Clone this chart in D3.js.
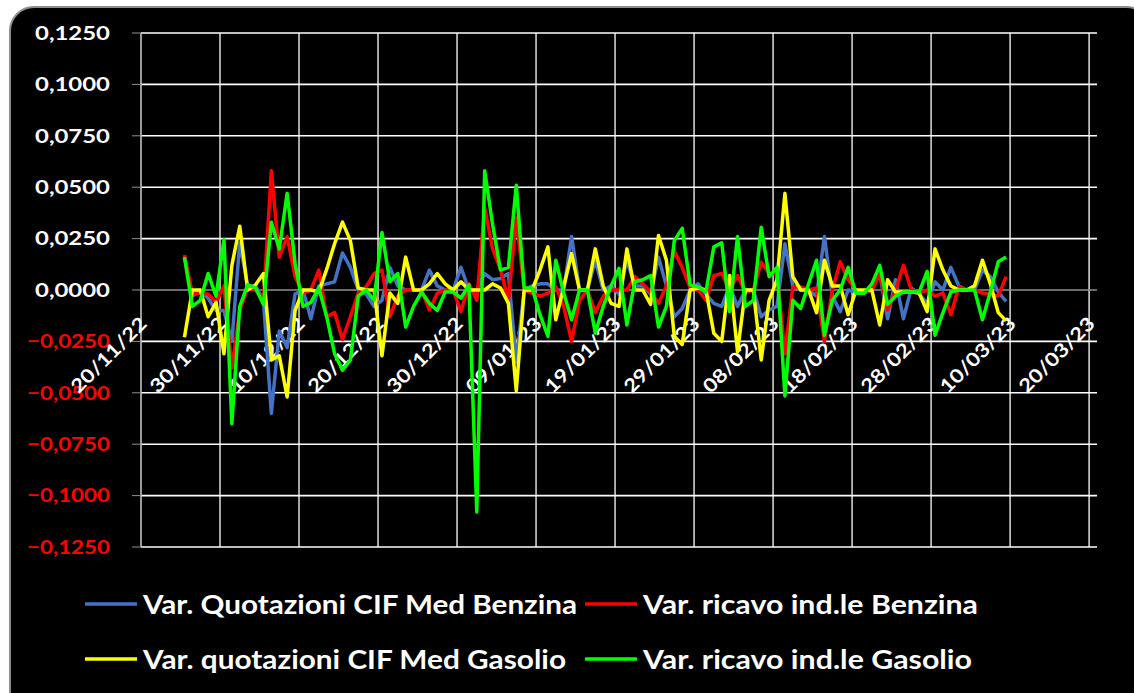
<!DOCTYPE html>
<html>
<head>
<meta charset="utf-8">
<script src="https://cdnjs.cloudflare.com/ajax/libs/d3/7.8.5/d3.min.js"></script>
<style>
  body { margin: 0; background: #fff; }
  svg { display: block; }
</style>
</head>
<body>
<div id="chart"></div>
<script>
// daily values from 25/11/22 to 09/03/23
var startDate = new Date(2022, 10, 25);

var benzinaQuot = [
  0.016, -0.003, 0.000, -0.004, -0.010, -0.010, -0.025, 0.023, 0.002, 0.002,
  -0.005, -0.060, -0.020, -0.028, -0.002, 0.000, -0.014, 0.002, 0.003, 0.004,
  0.018, 0.011, 0.000, -0.002, -0.008, -0.005, 0.011, 0.002, 0.000, 0.000,
  0.000, 0.0097, 0.002, 0.000, 0.000, 0.011, 0.000, 0.000, 0.008, 0.005,
  0.0056, 0.008, -0.035, 0.000, 0.002, 0.003, 0.003, 0.000, 0.000, 0.026,
  0.000, 0.000, 0.0145, 0.000, 0.002, -0.002, 0.0145, 0.002, 0.002, -0.002,
  0.016, 0.002, -0.013, -0.009, 0.000, 0.003, -0.002, -0.0065, -0.008, 0.002,
  -0.008, 0.000, 0.000, -0.013, -0.0097, -0.008, 0.0225, 0.002, 0.000, 0.000,
  -0.003, 0.026, -0.003, -0.0105, 0.000, -0.001, -0.001, 0.000, 0.008, -0.014,
  0.005, -0.014, 0.001, -0.002, -0.0065, 0.004, 0.000, 0.011, 0.002, 0.000,
  0.000, 0.0097, 0.0065, -0.001, -0.0055
];

var benzinaRicavo = [
  0.017, -0.002, -0.0015, -0.002, -0.006, 0.002, -0.038, -0.010, 0.001, 0.000,
  -0.005, 0.058, 0.016, 0.026, 0.0065, -0.0015, 0.000, 0.0097, -0.013, -0.011,
  -0.024, -0.013, -0.0015, 0.0015, 0.008, 0.0097, -0.013, -0.003, 0.000, 0.000,
  0.000, -0.0097, -0.0016, 0.000, 0.000, -0.0105, 0.003, -0.005, 0.040, 0.020,
  0.010, -0.005, 0.035, 0.000, -0.0015, -0.003, -0.0015, 0.0015, -0.008, -0.025,
  -0.005, 0.000, -0.011, -0.003, 0.000, 0.000, 0.000, 0.0065, 0.003, -0.001,
  -0.0065, 0.002, 0.019, 0.011, 0.001, 0.000, -0.005, 0.007, 0.008, 0.000,
  0.007, -0.001, 0.000, 0.0135, 0.008, 0.008, -0.031, 0.0015, 0.0015, 0.000,
  0.001, -0.025, 0.000, 0.0137, 0.005, 0.000, -0.0015, 0.000, 0.008, -0.0097,
  0.000, 0.012, 0.000, -0.0015, 0.000, -0.003, -0.0015, -0.012, 0.0015, 0.000,
  0.000, -0.0015, -0.002, -0.003, 0.0065
];

var gasolioQuot = [
  -0.023, 0.000, 0.000, -0.013, -0.006, -0.031, 0.012, 0.031, 0.000, 0.0025,
  0.008, -0.034, -0.032, -0.052, -0.010, 0.000, 0.000, -0.001, 0.010, 0.0225,
  0.033, 0.024, 0.001, 0.000, 0.000, -0.032, -0.0015, -0.0065, 0.016, 0.000,
  0.000, 0.003, 0.008, 0.003, 0.000, 0.004, 0.000, 0.000, 0.000, 0.003,
  0.001, -0.0065, -0.049, 0.000, 0.000, 0.0097, 0.021, -0.0145, 0.0015, 0.0177,
  0.000, 0.000, 0.020, 0.002, -0.0065, -0.008, 0.020, 0.000, 0.000, -0.007,
  0.0265, 0.0145, -0.0225, -0.0265, 0.000, 0.001, 0.000, -0.021, -0.025, 0.007,
  -0.030, 0.000, 0.000, -0.034, -0.005, 0.005, 0.047, 0.0065, 0.000, 0.000,
  -0.011, 0.0145, 0.002, 0.002, -0.012, 0.000, 0.000, 0.000, -0.017, 0.005,
  -0.001, -0.001, -0.001, -0.0015, -0.0105, 0.020, 0.0097, 0.002, 0.000, 0.000,
  0.002, 0.0145, 0.003, -0.011, -0.015
];

var gasolioRicavo = [
  0.016, -0.008, -0.005, 0.008, -0.003, 0.0245, -0.065, -0.008, 0.0025, 0.001,
  -0.007, 0.033, 0.020, 0.047, 0.013, -0.008, -0.006, 0.001, -0.013, -0.031,
  -0.039, -0.034, -0.003, 0.000, -0.005, 0.028, 0.004, 0.008, -0.018, -0.008,
  -0.001, -0.0065, -0.010, -0.001, -0.001, -0.004, 0.0025, -0.108, 0.058, 0.032,
  0.0097, 0.011, 0.051, 0.001, 0.001, -0.012, -0.0225, 0.0145, -0.0015, -0.0145,
  0.000, 0.000, -0.021, -0.008, 0.002, 0.0105, -0.017, 0.004, 0.005, 0.007,
  -0.018, -0.008, 0.024, 0.030, 0.0025, 0.0015, -0.001, 0.021, 0.023, -0.0105,
  0.026, -0.008, -0.005, 0.0305, 0.0065, 0.011, -0.0515, -0.005, -0.009, 0.003,
  0.0145, -0.022, -0.005, 0.000, 0.011, -0.0016, -0.0016, 0.003, 0.012, -0.007,
  -0.003, -0.001, -0.001, -0.001, 0.009, -0.022, -0.011, -0.001, 0.000, 0.000,
  0.000, -0.0145, -0.001, 0.0137, 0.016
];

var seriesNames = [
  "Var. Quotazioni CIF Med Benzina",
  "Var. ricavo ind.le Benzina",
  "Var. quotazioni CIF Med Gasolio",
  "Var. ricavo ind.le Gasolio"
];
var seriesColors = ["#4472C4", "#FF0000", "#FFFF00", "#00FF00"];
var yTicks = [0.125, 0.1, 0.075, 0.05, 0.025, 0, -0.025, -0.05, -0.075, -0.1, -0.125];

var W = 1134, H = 693;
var margin = {top: 33, left: 141, right: 1097, bottom: 547};

var svg = d3.select("#chart").append("svg")
    .attr("width", W)
    .attr("height", H);

// black rounded panel
svg.append("rect")
    .attr("x", 10).attr("y", 7)
    .attr("width", 1140).attr("height", 720)
    .attr("rx", 24).attr("ry", 24)
    .attr("fill", "#000")
    .attr("stroke", "#8c8c8c")
    .attr("stroke-width", 2);

var x = d3.scaleTime()
    .domain([new Date(2022, 10, 20), new Date(2023, 2, 21)])
    .range([margin.left, margin.right]);

var y = d3.scaleLinear()
    .domain([-0.125, 0.125])
    .range([margin.bottom, margin.top]);

var xTicks = d3.timeDay.range(new Date(2022, 10, 20), new Date(2023, 2, 21), 10);

// vertical grid
svg.append("g")
  .selectAll("line")
  .data(xTicks)
  .enter().append("line")
    .attr("x1", function (d) { return x(d); })
    .attr("x2", function (d) { return x(d); })
    .attr("y1", margin.top)
    .attr("y2", margin.bottom)
    .attr("stroke", "#fff")
    .attr("stroke-width", 1.3);

// horizontal grid + ticks
svg.append("g")
  .selectAll("line")
  .data(yTicks.filter(function (d) { return d !== 0; }))
  .enter().append("line")
    .attr("x1", margin.left)
    .attr("x2", margin.right)
    .attr("y1", function (d) { return y(d); })
    .attr("y2", function (d) { return y(d); })
    .attr("stroke", "#fff")
    .attr("stroke-width", 1.6);

svg.append("g")
  .selectAll("line")
  .data(yTicks)
  .enter().append("line")
    .attr("x1", margin.left - 9)
    .attr("x2", margin.left)
    .attr("y1", function (d) { return y(d); })
    .attr("y2", function (d) { return y(d); })
    .attr("stroke", "#909090")
    .attr("stroke-width", 1);

// axis lines
svg.append("line")
    .attr("x1", margin.left).attr("x2", margin.left)
    .attr("y1", margin.top).attr("y2", margin.bottom)
    .attr("stroke", "#909090").attr("stroke-width", 1);
svg.append("line")
    .attr("x1", margin.left).attr("x2", margin.right)
    .attr("y1", y(0)).attr("y2", y(0))
    .attr("stroke", "#909090").attr("stroke-width", 1.3);

// y labels
var fmt = function (d) { return d3.format(".4f")(d).replace(".", ","); };
svg.append("g")
  .selectAll("text")
  .data(yTicks)
  .enter().append("text")
    .attr("x", 110)
    .attr("y", function (d) { return y(d); })
    .attr("dy", "0.36em")
    .attr("text-anchor", "end")
    .attr("font-family", "Lato, sans-serif")
    .attr("font-weight", "bold")
    .attr("font-size", 19)
    .attr("textLength", function (d) { return d < 0 ? 83 : 75; })
    .attr("lengthAdjust", "spacingAndGlyphs")
    .attr("fill", function (d) { return d < 0 ? "#FF0000" : "#fff"; })
    .text(fmt);

// x labels
var dateFmt = d3.timeFormat("%d/%m/%y");
svg.append("g")
  .selectAll("text")
  .data(xTicks)
  .enter().append("text")
    .attr("transform", function (d) {
      return "translate(" + (x(d) + 7) + "," + (y(0) + 35) + ") rotate(-45)";
    })
    .attr("text-anchor", "end")
    .attr("font-family", "Lato, sans-serif")
    .attr("font-weight", "bold")
    .attr("font-size", 19)
    .attr("textLength", 98)
    .attr("lengthAdjust", "spacingAndGlyphs")
    .attr("fill", "#fff")
    .text(dateFmt);

// series
var allSeries = [benzinaQuot, benzinaRicavo, gasolioQuot, gasolioRicavo];
var line = d3.line()
    .x(function (d, i) { return x(d3.timeHour.offset(d3.timeDay.offset(startDate, i), 12)); })
    .y(function (d) { return y(d); });

svg.append("g")
  .selectAll("path")
  .data(allSeries)
  .enter().append("path")
    .attr("d", line)
    .attr("fill", "none")
    .attr("stroke", function (d, i) { return seriesColors[i]; })
    .attr("stroke-width", 3.5)
    .attr("stroke-linejoin", "round");

// legend
var legendPos = [
  {lx: 85, ly: 604, tw: 434},
  {lx: 585, ly: 604, tw: 335},
  {lx: 85, ly: 659, tw: 423},
  {lx: 585, ly: 659, tw: 329}
];
var legend = svg.append("g")
  .selectAll("g")
  .data(seriesNames)
  .enter().append("g")
    .attr("transform", function (d, i) {
      return "translate(" + legendPos[i].lx + "," + legendPos[i].ly + ")";
    });
legend.append("line")
    .attr("x1", 0).attr("x2", 52)
    .attr("stroke", function (d, i) { return seriesColors[i]; })
    .attr("stroke-width", 3.5);
legend.append("text")
    .attr("x", 58)
    .attr("dy", "0.36em")
    .attr("font-family", "Lato, sans-serif")
    .attr("font-weight", "bold")
    .attr("font-size", 27)
    .attr("textLength", function (d, i) { return legendPos[i].tw; })
    .attr("lengthAdjust", "spacingAndGlyphs")
    .attr("fill", "#fff")
    .text(function (d) { return d; });
</script>
</body>
</html>
